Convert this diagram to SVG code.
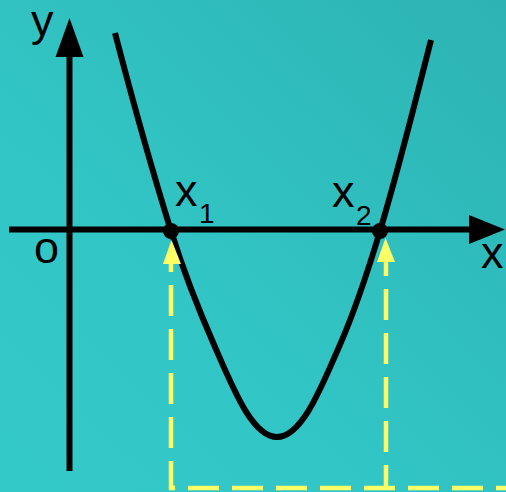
<svg xmlns="http://www.w3.org/2000/svg" width="506" height="492" viewBox="0 0 506 492">
  <defs>
    <linearGradient id="bg" x1="1" y1="0" x2="0" y2="1">
      <stop offset="0" stop-color="#2DB3B3"/>
      <stop offset="0.6" stop-color="#32C5C5"/>
      <stop offset="1" stop-color="#34C9C9"/>
    </linearGradient>
  </defs>
  <style>
    .axis { stroke: #000; stroke-width: 6; fill: none; }
    .curve { stroke: #000; stroke-width: 6; fill: none; stroke-linejoin: round; }
    .guide { stroke: #FFFF66; stroke-width: 4.5; fill: none; stroke-dasharray: 31 13; }
    .lbl { font-family: "Liberation Sans", Arial, sans-serif; font-size: 45px; fill: #000; }
    .sub { font-family: "Liberation Sans", Arial, sans-serif; font-size: 28px; fill: #000; }
  </style>
  <rect width="506" height="492" fill="url(#bg)"/>

  <g id="connectors">
    <path class="guide" d="M171,262 L171,488 L506,488" stroke-dashoffset="21"/>
    <path class="guide" d="M386,261 L386,490" stroke-dashoffset="16"/>
  </g>

  <g id="y-axis">
    <line class="axis" x1="69.5" y1="471" x2="69.5" y2="55"/>
    <polygon points="69.5,18 55.5,57 83.5,57" fill="#000"/>
    <text class="lbl" x="31" y="36">y</text>
  </g>

  <g id="x-axis">
    <line class="axis" x1="9" y1="229.5" x2="472" y2="229.5"/>
    <polygon points="505,229.5 469,215 469,244" fill="#000"/>
    <text class="lbl" x="481" y="268">x</text>
  </g>

  <g id="origin">
    <text class="lbl" x="34" y="263">o</text>
  </g>

  <g id="parabola">
    <path class="curve" d="M115,33 C132.2,99 150.5,165 171,231 C183,269.7 198,308.3 215,347 C232.6,387 252,437 277,437 C302,437 321.4,387 339,347 C356,308.3 368.4,269.7 380,231 C399.1,167.3 414.8,103.7 431,40"/>
  </g>

  <g id="arrow-x1">
    <polygon points="171.5,240 163,264 181,264" fill="#FFFF66"/>
  </g>
  <g id="arrow-x2">
    <polygon points="385.5,238 377,262 395,262" fill="#FFFF66"/>
  </g>

  <g id="root-x1">
    <circle cx="171" cy="231" r="8" fill="#000"/>
    <text class="lbl" x="175" y="206">x</text>
    <text class="sub" x="199" y="223">1</text>
  </g>

  <g id="root-x2">
    <circle cx="380" cy="231" r="8" fill="#000"/>
    <text class="lbl" x="332" y="207">x</text>
    <text class="sub" x="356" y="225">2</text>
  </g>
</svg>
